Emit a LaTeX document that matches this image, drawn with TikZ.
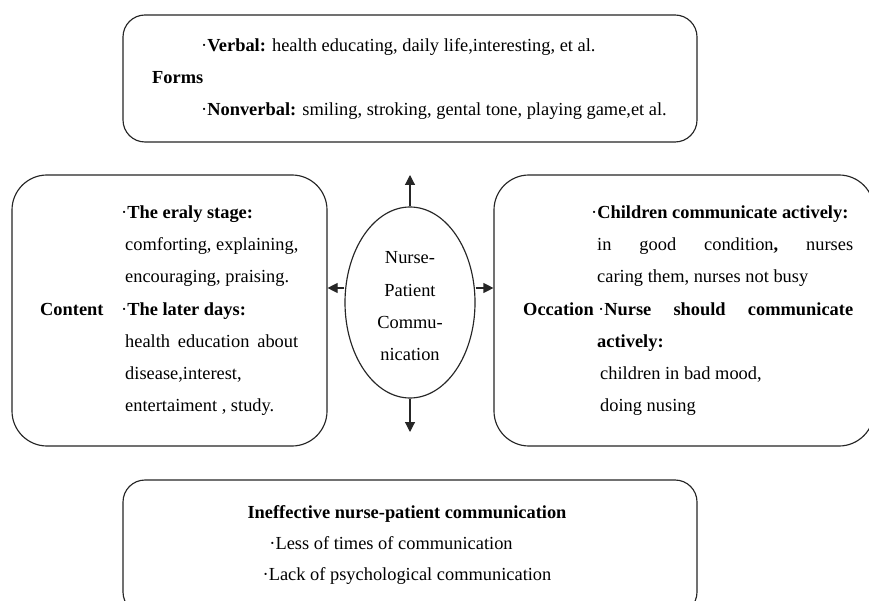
\documentclass[tikz,border=0pt]{standalone}
\usepackage{fontspec}
\setmainfont{Liberation Serif}
\usetikzlibrary{shapes.geometric,arrows.meta}
\begin{document}
\begin{tikzpicture}[x=1pt,y=-1pt,
  box/.style={draw=black!85, line width=1.15pt, inner sep=0pt},
  txt/.style={anchor=base west, inner sep=0pt, font=\fontsize{18.4}{32}\selectfont},
  ctxt/.style={anchor=base, inner sep=0pt, font=\fontsize{18.4}{32}\selectfont},
  arr/.style={line width=1.15pt, draw=black!85, -{Triangle[length=10pt,width=10pt]}}]
\useasboundingbox[fill=white] (0,0) rectangle (869,601);
% boxes
\node[box, rounded corners=22pt, minimum width=574pt, minimum height=127pt] (T) at (410,78.5) {};
\node[box, rounded corners=35pt, minimum width=315pt, minimum height=271pt] (L) at (169.5,310.5) {};
\node[box, rounded corners=35pt, minimum width=380pt, minimum height=271pt] (R) at (684,310.5) {};
\node[box, rounded corners=22pt, minimum width=574pt, minimum height=134pt] (B) at (410,547) {};
\node[box, ellipse, minimum width=130pt, minimum height=191pt] (nc) at (410,302.5) {};
% top box text
\node[txt] (t1) at (201,52) {·\textbf{Verbal:} health educating, daily life,interesting, et al.};
\node[txt] (t2) at (152,84) {\textbf{Forms}};
\node[txt] (t3) at (201,116) {·\textbf{Nonverbal:} smiling, stroking, gental tone, playing game,et al.};
% left box text
\node[txt] (l1) at (121,219) {·\textbf{The eraly stage:}};
\node[txt] (l2) at (125,251) {comforting, explaining,};
\node[txt] (l3) at (125,283) {encouraging, praising.};
\node[txt] (l0) at (40,315) {\textbf{Content}};
\node[txt] (l4) at (121,315) {·\textbf{The later days:}};
\node[txt] (l5) at (125,347) {\hbox to 173pt{health\hfill education\hfill about}};
\node[txt] (l6) at (125,379) {disease,interest,};
\node[txt] (l7) at (125,411) {entertaiment , study.};
% right box text
\node[txt] (r1) at (591,219) {·\textbf{Children communicate actively:}};
\node[txt] (r2) at (597,251) {\hbox to 256pt{in\hfill good\hfill condition\textbf{,}\hfill nurses}};
\node[txt] (r3) at (597,283) {caring them, nurses not busy};
\node[txt] (r0) at (523,315) {\textbf{Occation}};
\node[txt] (r4) at (598,315) {\hbox to 255pt{·\textbf{Nurse}\hfill\textbf{should}\hfill\textbf{communicate}}};
\node[txt] (r5) at (597,347) {\textbf{actively:}};
\node[txt] (r6) at (600,379) {children in bad mood,};
\node[txt] (r7) at (600,411) {doing nusing};
% ellipse text
\node[ctxt] (e1) at (410,264) {Nurse-};
\node[ctxt] (e2) at (410,296) {Patient};
\node[ctxt] (e3) at (410,328) {Commu-};
\node[ctxt] (e4) at (410,360) {nication};
% bottom box text
\node[ctxt] (b1) at (407,518) {\textbf{Ineffective nurse-patient communication}};
\node[ctxt] (b2) at (391,549) {·Less of times of communication};
\node[ctxt] (b3) at (407,580) {·Lack of psychological communication};
% arrows
\coordinate (ay) at (0,288);
\coordinate (up) at (410,175);
\coordinate (dn) at (410,432);
\draw[arr] (nc.north) -- (up);
\draw[arr] (nc.south) -- (dn);
\draw[arr] (nc.west |- ay) -- (L.east |- ay);
\draw[arr] (nc.east |- ay) -- (R.west |- ay);
\end{tikzpicture}
\end{document}
